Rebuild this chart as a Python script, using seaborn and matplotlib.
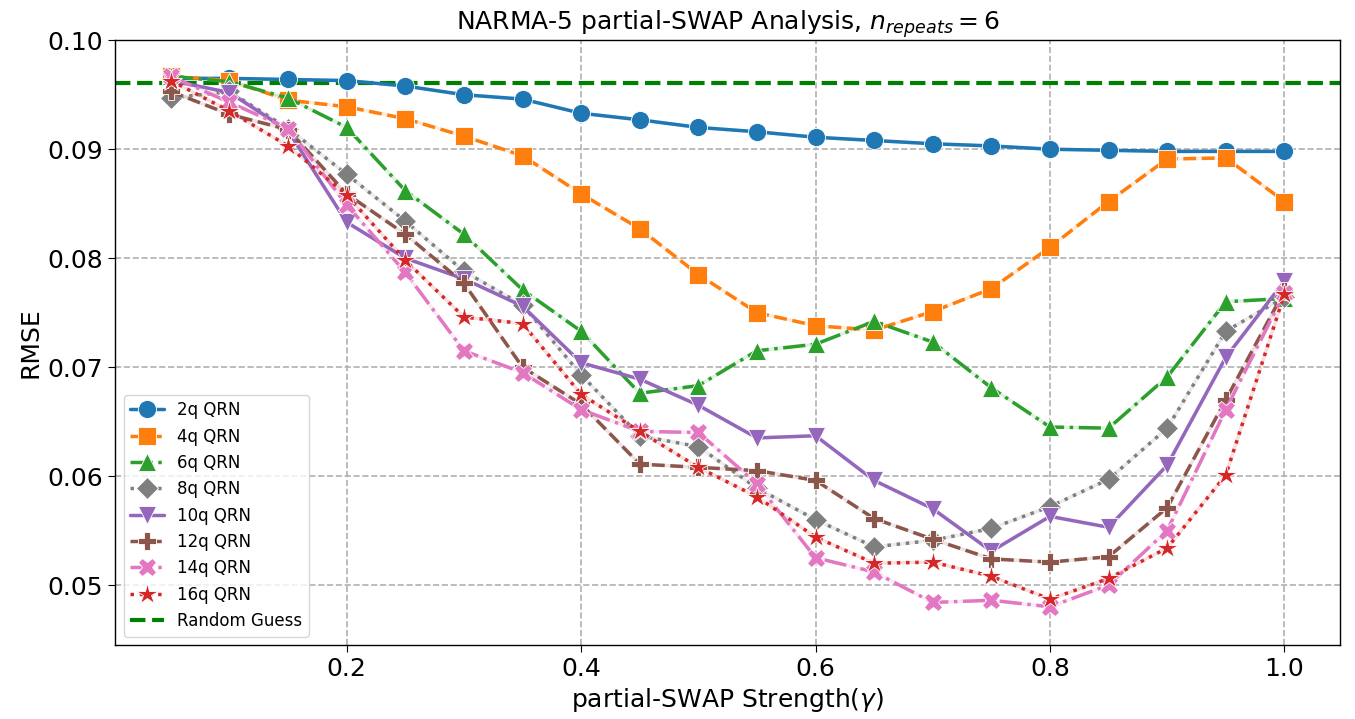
import numpy as np
import pandas as pd
import seaborn as sns
import matplotlib
import matplotlib.pyplot as plt
matplotlib.use('Agg')

gammas = [0.05, 0.10, 0.15, 0.20, 0.25, 0.30, 0.35, 0.40, 0.45, 0.50,
          0.55, 0.60, 0.65, 0.70, 0.75, 0.80, 0.85, 0.90, 0.95, 1.00]

rmse_2q = [0.0965, 0.0965, 0.0964, 0.0963, 0.0958, 0.0950, 0.0946, 0.0933, 0.0927, 0.0920,
           0.0916, 0.0911, 0.0908, 0.0905, 0.0903, 0.0900, 0.0899, 0.0898, 0.0898, 0.0898]
rmse_4q = [0.0967, 0.0963, 0.0945, 0.0939, 0.0928, 0.0912, 0.0894, 0.0859, 0.0827, 0.0785,
           0.0750, 0.0738, 0.0734, 0.0751, 0.0772, 0.0810, 0.0852, 0.0891, 0.0892, 0.0852]
rmse_6q = [0.0967, 0.0962, 0.0947, 0.0920, 0.0862, 0.0822, 0.0771, 0.0733, 0.0676, 0.0683,
           0.0715, 0.0721, 0.0742, 0.0723, 0.0681, 0.0645, 0.0644, 0.0691, 0.0760, 0.0763]
rmse_8q = [0.0947, 0.0953, 0.0919, 0.0877, 0.0834, 0.0788, 0.0757, 0.0693, 0.0637, 0.0627,
           0.0589, 0.0560, 0.0535, 0.0541, 0.0552, 0.0572, 0.0597, 0.0644, 0.0733, 0.0764]
rmse_10q = [0.0963, 0.0952, 0.0917, 0.0833, 0.0800, 0.0781, 0.0756, 0.0704, 0.0689, 0.0665,
            0.0635, 0.0637, 0.0596, 0.0570, 0.0531, 0.0563, 0.0553, 0.0610, 0.0709, 0.0779]
rmse_12q = [0.0953, 0.0932, 0.0918, 0.0859, 0.0822, 0.0777, 0.0700, 0.0666, 0.0611, 0.0608,
            0.0605, 0.0596, 0.0561, 0.0542, 0.0524, 0.0521, 0.0526, 0.0571, 0.0670, 0.0770]
rmse_14q = [0.0967, 0.0943, 0.0919, 0.0849, 0.0787, 0.0715, 0.0695, 0.0661, 0.0641, 0.0640,
            0.0593, 0.0525, 0.0512, 0.0484, 0.0486, 0.0480, 0.0500, 0.0550, 0.0661, 0.0768]
rmse_16q = [0.0963, 0.0935, 0.0903, 0.0858, 0.0798, 0.0746, 0.0740, 0.0675, 0.0641, 0.0608,
            0.0581, 0.0544, 0.0520, 0.0521, 0.0508, 0.0487, 0.0506, 0.0534, 0.0601, 0.0767]
random_guess = 0.0961

series_labels = ['2q QRN', '4q QRN', '6q QRN', '8q QRN', '10q QRN', '12q QRN', '14q QRN', '16q QRN']
series_values = [rmse_2q, rmse_4q, rmse_6q, rmse_8q, rmse_10q, rmse_12q, rmse_14q, rmse_16q]

colors = ['tab:blue', 'tab:orange', 'tab:green', 'tab:gray',
          'tab:purple', 'tab:brown', 'tab:pink', 'tab:red']
markers = ['o', 's', '^', 'D', 'v', 'P', 'X', '*']
linestyles = ['-', '--', '-.', ':', '-', '--', '-.', ':']

rows = []
for label, vals in zip(series_labels, series_values):
    for g, v in zip(gammas, vals):
        rows.append({'gamma': g, 'rmse': v, 'model': label})
df = pd.DataFrame(rows)

sns.set_style('ticks', {'text.color': 'black', 'axes.labelcolor': 'black',
                        'xtick.color': 'black', 'ytick.color': 'black'})
plt.rcParams['font.family'] = ['DejaVu Sans']

fig = plt.figure(figsize=(13.55, 7.19), dpi=100)
ax = fig.add_axes([0.085, 0.103, 0.904, 0.841])

for label, c, m, ls in zip(series_labels, colors, markers, linestyles):
    sub = df[df['model'] == label]
    # faint underlay, looks like the original's pale gaps
    ax.plot(sub['gamma'], sub['rmse'], color=c, alpha=0.15, lw=2.5, zorder=1)
    ms = 16 if m == '*' else (11 if m == 'D' else 13)
    sns.lineplot(x='gamma', y='rmse', data=sub, ax=ax, label=label, color=c,
                 marker=m, linestyle=ls, linewidth=2.5, markersize=ms,
                 markeredgecolor='w', markeredgewidth=0.6, errorbar=None, zorder=3)

ax.axhline(random_guess, color='green', linestyle='--', linewidth=3, label='Random Guess', zorder=2)

ax.set_xlim(0.0025, 1.0475)
ax.set_ylim(0.0445, 0.100)
ax.set_xticks([0.2, 0.4, 0.6, 0.8, 1.0])
ax.set_yticks([0.05, 0.06, 0.07, 0.08, 0.09, 0.10])
ax.set_xticklabels(['0.2', '0.4', '0.6', '0.8', '1.0'])
ax.set_yticklabels(['0.05', '0.06', '0.07', '0.08', '0.09', '0.10'])
ax.tick_params(labelsize=18, colors='black', length=5)
ax.grid(True, linestyle='--', color='#b0b0b0', linewidth=1.2)
for s in ax.spines.values():
    s.set_color('black')
    s.set_linewidth(1.0)

ax.set_xlabel(r'partial-SWAP Strength($\gamma$)', fontsize=18, color='black')
ax.set_ylabel('RMSE', fontsize=18, color='black')
ax.set_title(r'NARMA-5 partial-SWAP Analysis, $n_{repeats} = 6$', fontsize=18, color='black', pad=7)

ax.legend(loc='lower left', fontsize=12, frameon=True, framealpha=0.8, edgecolor='#cccccc')

plt.savefig('out.png', dpi=100)
